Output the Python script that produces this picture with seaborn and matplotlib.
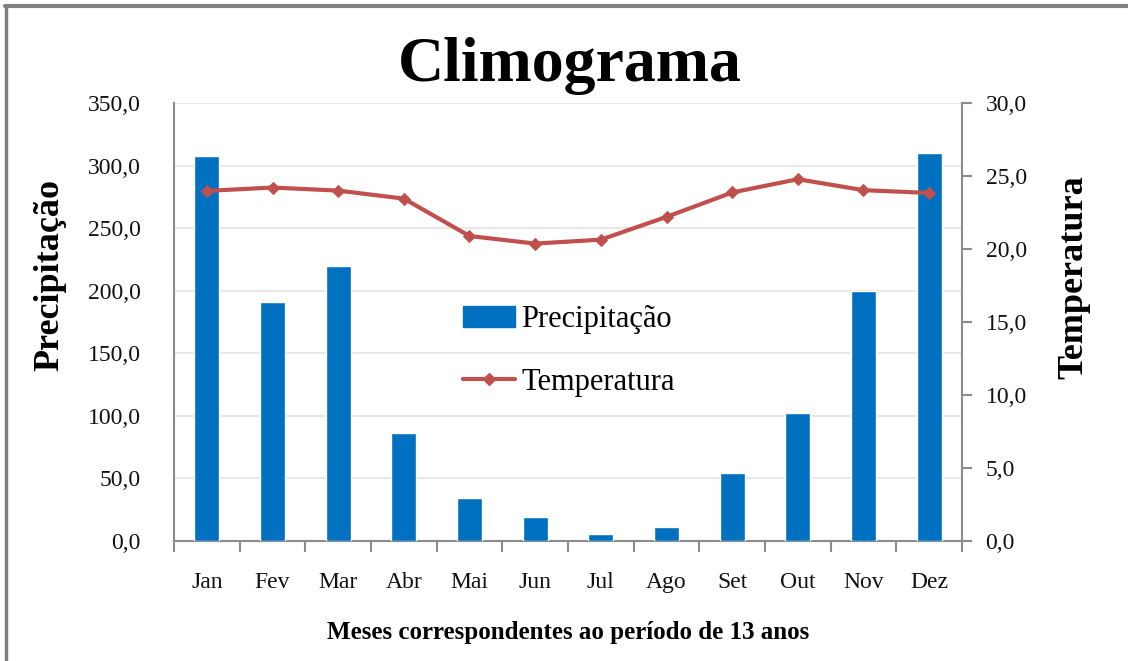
import numpy as np
import pandas as pd
import matplotlib
matplotlib.use("Agg")
import matplotlib.pyplot as plt
from matplotlib.ticker import FuncFormatter, FixedLocator, MultipleLocator
from matplotlib.lines import Line2D
import seaborn as sns

months = ["Jan", "Fev", "Mar", "Abr", "Mai", "Jun", "Jul", "Ago", "Set", "Out", "Nov", "Dez"]
precipitacao = [307.8, 190.6, 219.4, 86.3, 34.7, 19.2, 5.8, 11.5, 54.7, 102.5, 199.4, 310.2]
temperatura = [23.98, 24.21, 24.0, 23.45, 20.89, 20.37, 20.64, 22.2, 23.87, 24.78, 24.03, 23.84]

title = "Climograma"
xlabel = "Meses correspondentes ao período de 13 anos"
ylabel_left = "Precipitação"
ylabel_right = "Temperatura"

sns.set_theme(style="white")
plt.rcParams["font.family"] = ["Liberation Serif", "DejaVu Serif"]
plt.rcParams["text.color"] = "black"

df = pd.DataFrame({"mes": months, "prec": precipitacao, "temp": temperatura,
                   "pos": np.arange(len(months))})

fig = plt.figure(figsize=(11.28, 6.61), dpi=100)
ax = fig.add_axes([174/1128, 1-541/661, (962-174)/1128, (541-103)/661])

BAR = "#0070C0"
LINE = "#C0504D"
GRID = "#E8E8E8"
SPINE = "#8C8C8C"
TXT = "#111111"

sns.barplot(data=df, x="mes", y="prec", color=BAR, width=0.38, ax=ax,
            saturation=1, zorder=3)
ax.set_ylim(0, 350)
ax.yaxis.set_major_locator(MultipleLocator(50))
ax.set_xlim(-0.5, len(months) - 0.5)
ax.grid(axis="y", color=GRID, linewidth=1.5, zorder=0)
ax.set_axisbelow(True)
if ax.get_legend() is not None:
    ax.get_legend().remove()

fmt = FuncFormatter(lambda v, p: f"{v:.1f}".replace(".", ","))
ax.yaxis.set_major_formatter(fmt)

ax2 = ax.twinx()
sns.lineplot(data=df, x="pos", y="temp", color=LINE, linewidth=3, marker="D",
             markersize=6, markeredgecolor=LINE, ax=ax2, zorder=4)
ax2.set_ylim(0, 30)
ax2.yaxis.set_major_locator(MultipleLocator(5))
ax2.yaxis.set_major_formatter(fmt)
ax2.set_xlim(-0.5, len(months) - 0.5)
if ax2.get_legend() is not None:
    ax2.get_legend().remove()

for a in (ax, ax2):
    a.spines["top"].set_visible(False)
    for s in ("left", "right", "bottom"):
        a.spines[s].set_color(SPINE)
        a.spines[s].set_linewidth(1.5)
ax.spines["right"].set_visible(False)
ax2.spines["left"].set_visible(False)
ax2.spines["bottom"].set_visible(False)

# x ticks: labels at centers, tick marks at boundaries
ax.set_xticks(np.arange(len(months)))
ax.set_xticklabels(months)
ax.xaxis.set_minor_locator(FixedLocator(np.arange(-0.5, len(months), 1.0)))
ax.tick_params(axis="x", which="major", length=0, pad=22, labelsize=17, labelcolor=TXT)
ax.tick_params(axis="x", which="minor", length=8, width=1.5, color=SPINE, direction="out", bottom=True)
ax.tick_params(axis="y", length=0, pad=24, labelsize=17, labelcolor=TXT)
ax2.tick_params(axis="y", length=7, width=1.5, color=SPINE, direction="out", pad=10,
                labelsize=17, labelcolor=TXT, right=True)

ax.set_xlabel(xlabel, fontsize=18, fontweight="bold", color="black")
ax.xaxis.set_label_coords(0.5, -(621-541)/438)
ax.set_ylabel(ylabel_left, fontsize=26, fontweight="bold", color="black")
ax.yaxis.set_label_coords((66-174)/788, (541-275)/438)
ax2.set_ylabel(ylabel_right, fontsize=26, fontweight="bold", color="black")
ax2.yaxis.set_label_coords((1057-174)/788, (541-277)/438)

fig.text(0.505, 1 - 66/661, title, ha="center", va="center", fontsize=46,
         fontweight="bold", color="black")

handles = [plt.Rectangle((0, 0), 1, 1, color=BAR),
           Line2D([0], [0], color=LINE, linewidth=3, marker="D", markersize=6)]
leg = ax2.legend(handles, [ylabel_left, ylabel_right], loc="center left",
                 bbox_to_anchor=((463-174)/788, (541-351)/438), frameon=False, fontsize=22,
                 labelspacing=1.1, handlelength=1.7, handletextpad=0.2, borderpad=0,
                 borderaxespad=0)
for t in leg.get_texts():
    t.set_color("black")

# figure border (top and left)
fig.add_artist(Line2D([0.004, 1.0], [1 - 6/661, 1 - 6/661], transform=fig.transFigure,
                      color="#808080", linewidth=3))
fig.add_artist(Line2D([0.005, 0.005], [0.0, 1 - 6/661], transform=fig.transFigure,
                      color="#808080", linewidth=2.5))

fig.savefig("out.png", dpi=100)
